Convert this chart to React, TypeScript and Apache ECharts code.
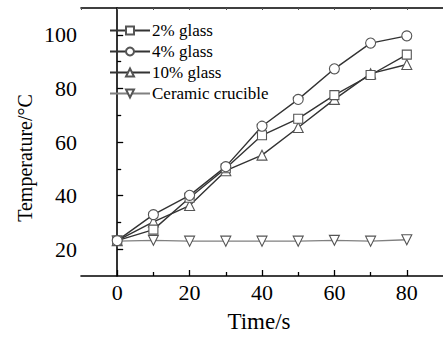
import React, { useEffect, useRef } from "react";
import * as echarts from "echarts";

const times = [0, 10, 20, 30, 40, 50, 60, 70, 80];
const glass2 = [23.2, 27.3, 39.2, 50.2, 62.5, 68.7, 77.5, 85, 92.6];
const glass4 = [23.2, 32.9, 40.1, 50.8, 65.9, 75.9, 87.3, 96.9, 99.6];
const glass10 = [23.2, 30.2, 36.3, 49.3, 55.1, 65.4, 75.9, 85.5, 88.9];
const ceramic = [23.0, 23.3, 23.0, 23.0, 23.0, 23.0, 23.3, 23.0, 23.5];
const seriesNames = ["2% glass", "4% glass", "10% glass", "Ceramic crucible"];
const xMajor = [0, 20, 40, 60, 80];
const xMinor = [10, 30, 50, 70];
const yMajor = [20, 40, 60, 80, 100];
const yMinor = [30, 50, 70, 90];
const yTitle = "Temperature/°C";
const xTitle = "Time/s";

const FONT = "Liberation Serif";

export default function App() {
  const ref = useRef<HTMLDivElement>(null);
  useEffect(() => {
    document.body.style.margin = "0";
    const chart = echarts.init(ref.current!, null, { renderer: "svg" });
    const pair = (vals: number[]) => times.map((t, i) => [t, vals[i]]);
    const dark = "#333333";
    const mk = (name: string, vals: number[], symbol: string, size: number, color: string) => ({
      name,
      type: "line",
      data: pair(vals),
      symbol,
      symbolSize: size,
      showAllSymbol: true,
      lineStyle: { color, width: 1.4 },
      itemStyle: { color: "#ffffff", borderColor: "#555555", borderWidth: 1.1 },
      emphasis: { disabled: true },
    });
    const axisLineStyle = { color: "#000", width: 1.6 };
    chart.setOption({
      animation: false,
      backgroundColor: "#ffffff",
      grid: { left: 81, right: -3, top: 8, bottom: 61, containLabel: false },
      graphic: [
        {
          type: "text",
          x: 25,
          y: 158,
          rotation: Math.PI / 2,
          style: {
            text: yTitle,
            font: `20px "${FONT}"`,
            fill: "#000",
            textAlign: "center",
            textVerticalAlign: "middle",
          },
        },
      ],
      legend: {
        orient: "vertical",
        left: 104,
        top: 17,
        itemWidth: 40,
        itemHeight: 10,
        itemGap: 4,
        textStyle: { fontFamily: FONT, fontSize: 17, color: "#000", lineHeight: 17, padding: [0, 0, 0, -3] },
        data: seriesNames,
      },
      xAxis: [
        {
          type: "value",
          position: "bottom",
          min: -10,
          max: 90,
          name: xTitle,
          nameLocation: "middle",
          nameGap: 34,
          nameTextStyle: { fontFamily: FONT, fontSize: 23, color: "#000", padding: [0, 6, 0, 0] },
          axisLine: { show: true, lineStyle: axisLineStyle },
          axisTick: { show: true, inside: true, length: 6, customValues: xMajor, lineStyle: { color: "#000", width: 1.3 } },
          axisLabel: { customValues: xMajor, fontFamily: FONT, fontSize: 22, color: "#000", margin: 5 },
          splitLine: { show: false },
        },
        {
          type: "value",
          position: "bottom",
          min: -10,
          max: 90,
          axisLine: { show: false },
          axisTick: { show: true, inside: true, length: 4, customValues: xMinor, lineStyle: { color: "#000", width: 1.3 } },
          axisLabel: { show: false },
          splitLine: { show: false },
        },
        {
          type: "value",
          position: "top",
          min: -10,
          max: 90,
          interval: 10,
          axisLine: { show: true, lineStyle: axisLineStyle },
          axisTick: { show: true, inside: true, length: 2, lineStyle: { color: "#555", width: 1 } },
          axisLabel: { show: false },
          splitLine: { show: false },
        },
      ],
      yAxis: [
        {
          type: "value",
          position: "left",
          min: 10,
          max: 110,
          axisLine: { show: true, lineStyle: axisLineStyle },
          axisTick: { show: true, inside: true, length: 6, customValues: yMajor, lineStyle: { color: "#000", width: 1.3 } },
          axisLabel: { customValues: yMajor, fontFamily: FONT, fontSize: 22, color: "#000", margin: 4 },
          splitLine: { show: false },
        },
        {
          type: "value",
          position: "left",
          min: 10,
          max: 110,
          axisLine: { show: false },
          axisTick: { show: true, inside: true, length: 4, customValues: yMinor, lineStyle: { color: "#000", width: 1.3 } },
          axisLabel: { show: false },
          splitLine: { show: false },
        },
      ],
      series: [
        mk(seriesNames[3], ceramic, "path://M0,0L10,0L5,9Z", 10, "#808080"),
        mk(seriesNames[2], glass10, "triangle", 10, dark),
        mk(seriesNames[0], glass2, "rect", 9, dark),
        mk(seriesNames[1], glass4, "circle", 10, dark),
      ],
    });
    return () => chart.dispose();
  }, []);
  return <div ref={ref} style={{ width: 443, height: 338, position: "absolute", left: 0, top: 0 }} />;
}
